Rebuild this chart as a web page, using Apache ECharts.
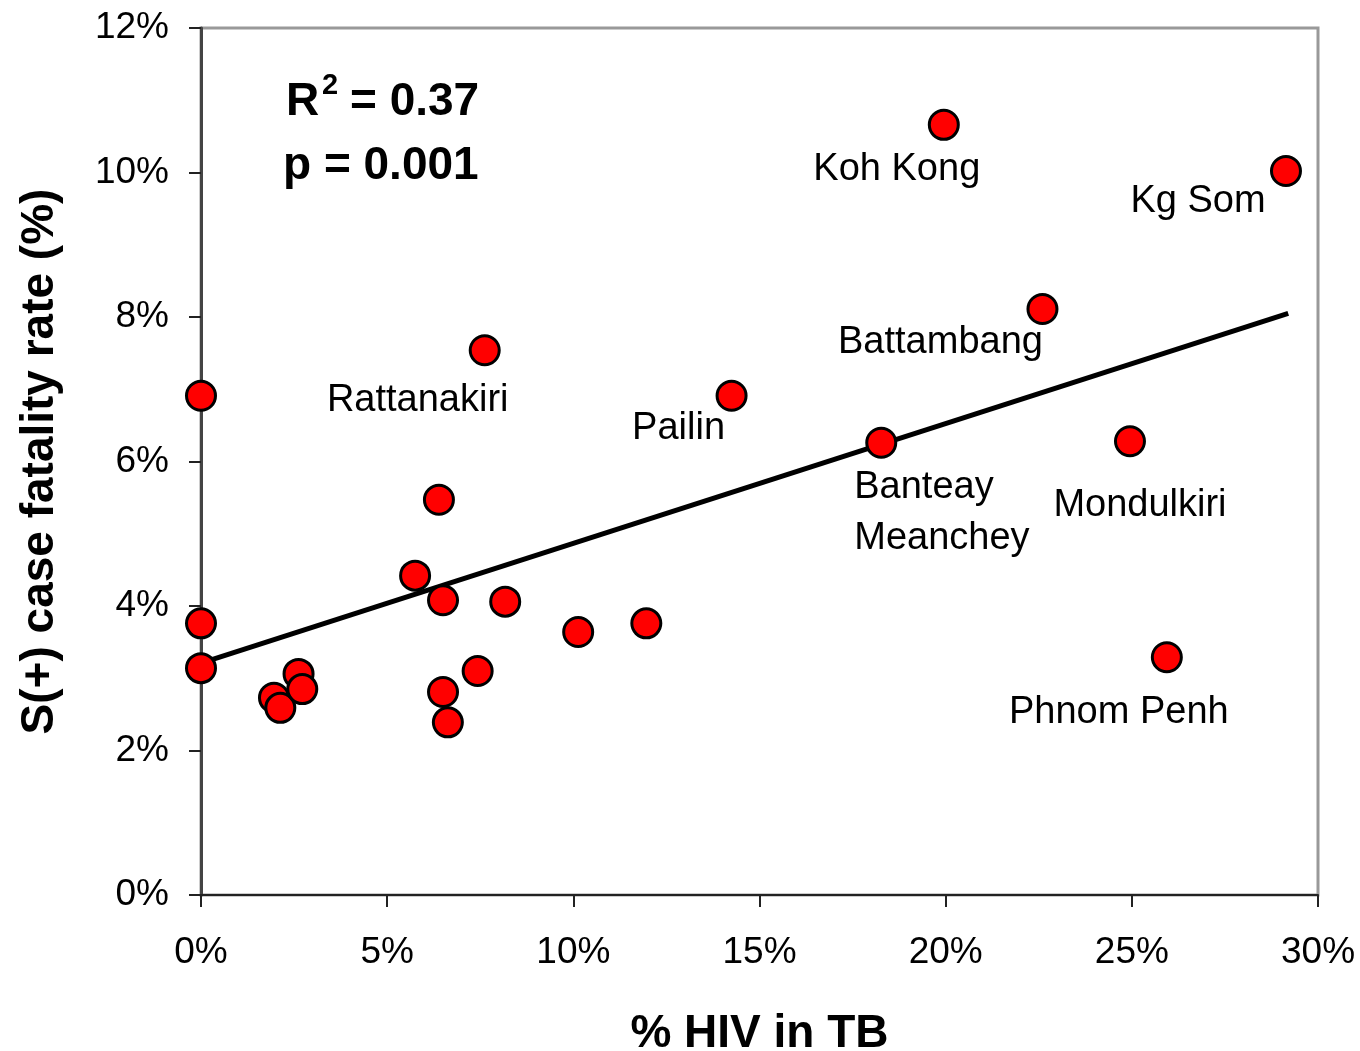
<!DOCTYPE html>
<html>
<head>
<meta charset="utf-8">
<style>
html,body{margin:0;padding:0;background:#fff;}
#chart{width:1360px;height:1051px;}
</style>
<script src="https://cdn.jsdelivr.net/npm/echarts@6/dist/echarts.min.js"></script>
</head>
<body>
<div id="chart"></div>
<script>
// ---- data ----
var hivInTB = [0.0, 0.0, 0.0, 1.96, 2.13, 2.62, 2.72, 5.75, 6.39, 6.5, 6.5, 6.63, 7.43, 7.62, 8.17, 10.13, 11.96, 14.25, 18.27, 19.95, 22.6, 24.95, 25.94, 29.14];
var fatalityRate = [6.91, 3.76, 3.14, 2.73, 2.59, 3.06, 2.85, 4.42, 5.47, 4.08, 2.81, 2.39, 3.10, 7.54, 4.06, 3.64, 3.76, 6.91, 6.26, 10.66, 8.11, 6.28, 3.29, 10.02];
var provinceNames = ["", "", "", "", "", "", "", "", "", "", "", "", "", "Rattanakiri", "", "", "", "Pailin", "Banteay\nMeanchey", "Koh Kong", "Battambang", "Mondulkiri", "Phnom Penh", "Kg Som"];
var trendX = [0, 29.2];
var trendY = [3.21, 8.05];
var xTicks = [0, 5, 10, 15, 20, 25, 30];
var yTicks = [0, 2, 4, 6, 8, 10, 12];
var statR2 = "0.37";
var statP = "0.001";

// ---- label placement (styling) ----
var labelOffsets = {
  "Rattanakiri": {offset: [-67, 50], align: "center"},
  "Pailin": {offset: [-53, 33], align: "center"},
  "Banteay\nMeanchey": {offset: [-27, 70], align: "left"},
  "Koh Kong": {offset: [-47, 45], align: "center"},
  "Battambang": {offset: [-102, 33], align: "center"},
  "Mondulkiri": {offset: [10, 64], align: "center"},
  "Phnom Penh": {offset: [-48, 55], align: "center"},
  "Kg Som": {offset: [-88, 30], align: "center"}
};

var FONT = "'Liberation Sans', Arial, sans-serif";

var scatterData = hivInTB.map(function (x, i) {
  var name = provinceNames[i];
  var item = {value: [x, fatalityRate[i]], name: name};
  if (name && labelOffsets[name]) {
    var o = labelOffsets[name];
    item.label = {
      show: true,
      position: "inside",
      offset: o.offset,
      align: o.align,
      verticalAlign: "middle",
      formatter: name,
      fontSize: 38,
      fontFamily: FONT,
      color: "#000",
      lineHeight: 51
    };
  }
  return item;
});

var trendData = trendX.map(function (x, i) { return [x, trendY[i]]; });

var chart = echarts.init(document.getElementById("chart"), null, {renderer: "canvas"});
chart.setOption({
  backgroundColor: "#fff",
  animation: false,
  grid: {
    left: 201, right: 42, top: 28, bottom: 156,
    containLabel: false, outerBoundsMode: "none",
    show: true, borderColor: "#999", borderWidth: 3, backgroundColor: "transparent"
  },
  xAxis: {
    type: "value", min: xTicks[0], max: xTicks[xTicks.length - 1], interval: 5,
    name: "% HIV in TB", nameLocation: "middle", nameGap: 116,
    nameTextStyle: {fontSize: 46, fontWeight: "bold", fontFamily: FONT, color: "#000"},
    axisLine: {show: true, lineStyle: {color: "#222", width: 2}},
    axisTick: {show: true, inside: false, length: 12, lineStyle: {color: "#222", width: 2}},
    axisLabel: {formatter: "{value}%", fontSize: 37, fontFamily: FONT, color: "#000", margin: 39},
    splitLine: {show: false}
  },
  yAxis: {
    type: "value", min: yTicks[0], max: yTicks[yTicks.length - 1], interval: 2,
    name: "S(+) case fatality rate (%)", nameLocation: "middle", nameGap: 138,
    nameTextStyle: {fontSize: 46, fontWeight: "bold", fontFamily: FONT, color: "#000"},
    axisLine: {show: true, lineStyle: {color: "#444", width: 3}},
    axisTick: {show: true, inside: false, length: 12, lineStyle: {color: "#222", width: 2}},
    axisLabel: {formatter: "{value}%", fontSize: 37, fontFamily: FONT, color: "#000", margin: 32},
    splitLine: {show: false}
  },
  series: [
    {
      type: "line",
      data: trendData,
      symbol: "none",
      lineStyle: {color: "#000", width: 5},
      z: 3,
      silent: true
    },
    {
      type: "scatter",
      data: scatterData,
      symbol: "circle",
      symbolSize: 29,
      itemStyle: {color: "#ff0000", borderColor: "#000", borderWidth: 3, opacity: 1},
      label: {show: false},
      z: 4
    }
  ],
  graphic: [
    {type: "text", left: 286, top: 79, z: 10,
     style: {text: "R", fontSize: 46, fontWeight: "bold", fontFamily: FONT, fill: "#000"}},
    {type: "text", left: 322, top: 71, z: 10,
     style: {text: "2", fontSize: 29, fontWeight: "bold", fontFamily: FONT, fill: "#000"}},
    {type: "text", left: 350, top: 79, z: 10,
     style: {text: "= " + statR2, fontSize: 46, fontWeight: "bold", fontFamily: FONT, fill: "#000"}},
    {type: "text", left: 283, top: 143, z: 10,
     style: {text: "p = " + statP, fontSize: 46, fontWeight: "bold", fontFamily: FONT, fill: "#000"}}
  ]
});
</script>
</body>
</html>
